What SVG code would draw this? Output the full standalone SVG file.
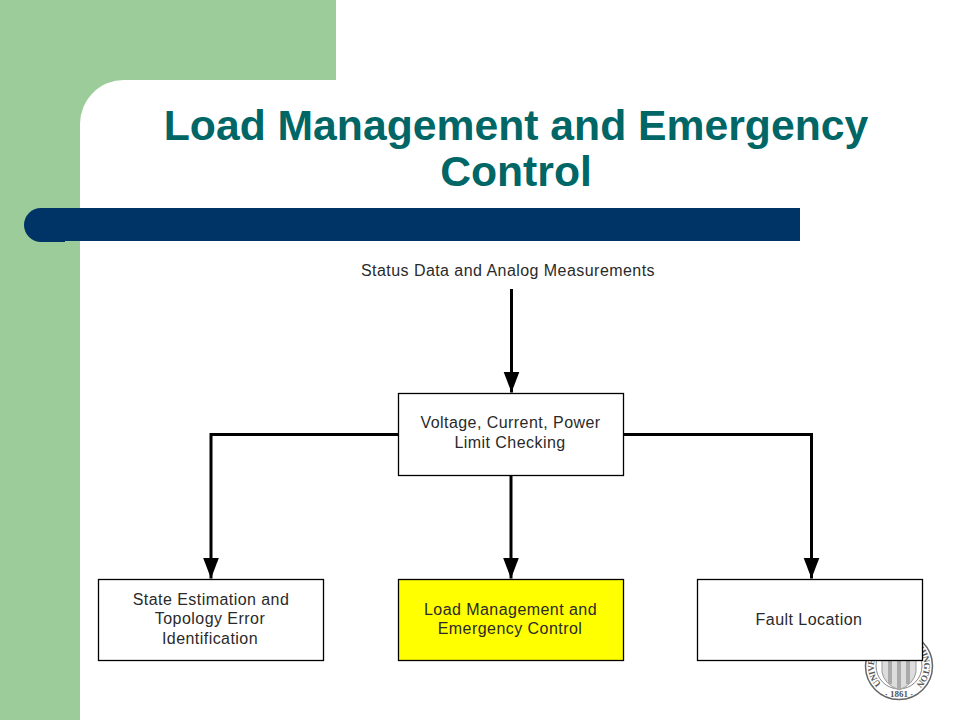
<svg xmlns="http://www.w3.org/2000/svg" width="960" height="720" viewBox="0 0 960 720">
<style>
.box{fill:#fff;stroke:#000;stroke-width:1.3}
.lbl{font-family:"Liberation Sans",Arial,sans-serif;font-size:16px;fill:#2a2a2a;text-anchor:middle;letter-spacing:.45px}
.title{font-family:"Liberation Sans",Arial,sans-serif;font-size:42.700px;font-weight:bold;fill:#006666;text-anchor:middle}
.conn{fill:none;stroke:#000;stroke-width:3}
.seal{font-family:"Liberation Serif",serif;font-size:9px;font-weight:bold;fill:#555}
</style>
<defs>
<marker id="ah" markerUnits="userSpaceOnUse" markerWidth="22" markerHeight="18" refX="21" refY="8.500" orient="auto" viewBox="0 0 22 18"><path d="M0 0.500L21 8.500L0 16.500Z" fill="#000"/></marker>
<path id="sealRing" d="M881.300 683.700A25 25 0 1 1 916.700 683.700"/>
</defs>
<rect width="960" height="720" fill="#fff"/>
<g id="background">
<path d="M0 0H336V80H124A44 44 0 0 0 80 124V720H0Z" fill="#9ccc9a"/>
<path d="M41 208H800V241H65V242H41A17 17 0 0 1 41 208Z" fill="#003366"/>
</g>
<g id="title">
<text class="title" x="516" y="140">Load Management and Emergency</text>
<text class="title" x="516" y="186">Control</text>
</g>
<g id="seal">
<circle cx="899" cy="666" r="33.500" fill="#fff" stroke="#666" stroke-width="1.500"/>
<circle cx="899" cy="666" r="23" fill="none" stroke="#888" stroke-width="1"/>
<path d="M882 660H916V672Q914 684 899 690Q884 684 882 672Z" fill="#ddd" stroke="#999"/>
<path d="M890 660V684M899 660V689M908 660V684" stroke="#aaa" stroke-width="4"/>
<text class="seal" textLength="118"><textPath href="#sealRing">UNIVERSITY OF WASHINGTON</textPath></text>
<text class="seal" x="899" y="697" text-anchor="middle">· 1861 ·</text>
</g>
<g id="connectors">
<path class="conn" d="M511.500 289V392.500" marker-end="url(#ah)"/>
<path class="conn" d="M398 434.500H211V578.500" marker-end="url(#ah)"/>
<path class="conn" d="M511 475V578.500" marker-end="url(#ah)"/>
<path class="conn" d="M624 434.500H811.500V578.500" marker-end="url(#ah)"/>
</g>
<g id="input-label">
<text class="lbl" x="508" y="275.500">Status Data and Analog Measurements</text>
</g>
<g id="node-limit-checking">
<rect class="box" x="398.500" y="393.500" width="225" height="82"/>
<text class="lbl" x="510.500" y="428">Voltage, Current, Power</text>
<text class="lbl" x="510" y="448">Limit Checking</text>
</g>
<g id="node-state-estimation">
<rect class="box" x="98.500" y="579.500" width="225" height="81"/>
<text class="lbl" x="211" y="605">State Estimation and</text>
<text class="lbl" x="210" y="624">Topology Error</text>
<text class="lbl" x="210" y="644">Identification</text>
</g>
<g id="node-load-management">
<rect class="box" x="398.500" y="579.500" width="225" height="81" style="fill:#ffff00"/>
<text class="lbl" x="510.500" y="615">Load Management and</text>
<text class="lbl" x="510" y="634">Emergency Control</text>
</g>
<g id="node-fault-location">
<rect class="box" x="697.500" y="579.500" width="225" height="81"/>
<text class="lbl" x="809" y="625">Fault Location</text>
</g>
</svg>
